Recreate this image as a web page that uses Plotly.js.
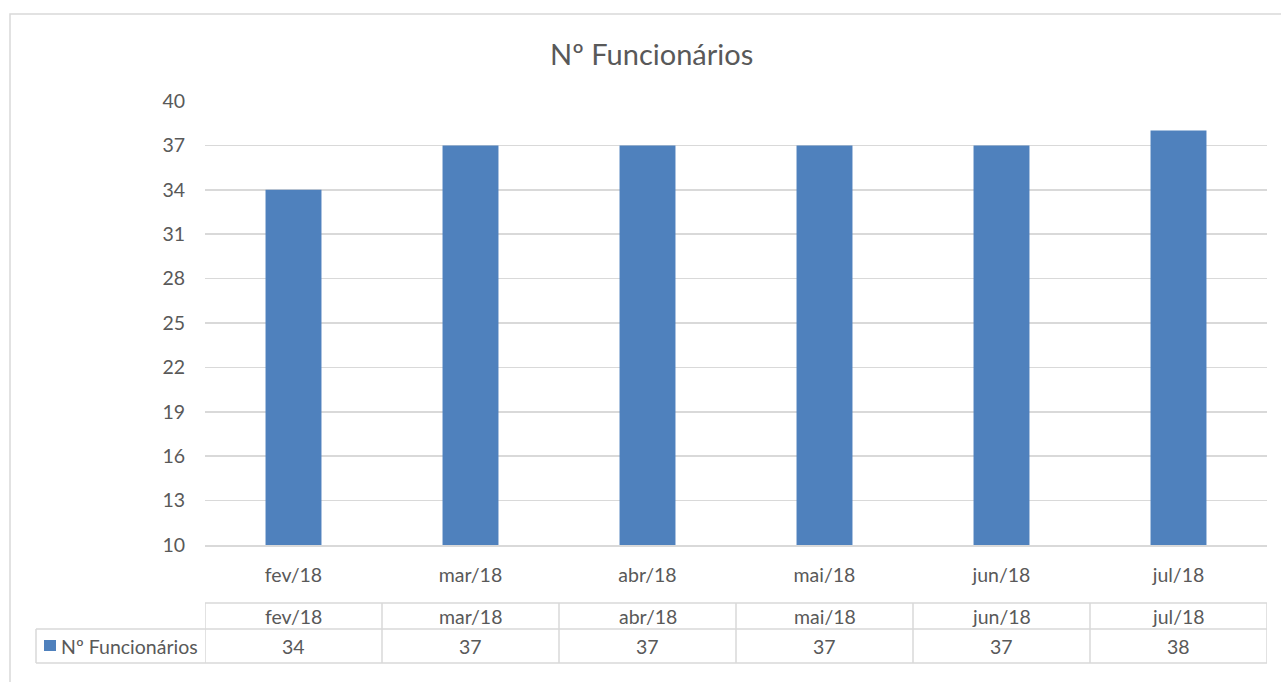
<!DOCTYPE html>
<html><head><meta charset="utf-8">
<script src="https://cdn.plot.ly/plotly-3.0.1.min.js"></script>
<style>html,body{margin:0;padding:0;background:#fff;}#chart{width:1281px;height:682px;}</style>
</head><body><div id="chart"></div>
<script>
const chartTitle = "Nº Funcionários";
const seriesName = "Nº Funcionários";
const categories = ["fev/18","mar/18","abr/18","mai/18","jun/18","jul/18"];
const values = [34, 37, 37, 37, 37, 38];
const yTicks = [10,13,16,19,22,25,28,31,34,37,40];

const W = 1281, H = 682;
const px = x => x / W;
const py = y => 1 - y / H;
const FONT = "Lato, 'Open Sans', sans-serif";
const GRAY = "#595959";
const LINE = "#d9d9d9";
const BLUE = "#4f81bd";
const FS = 19.5;

const plotL = 205, plotR = 1267, plotT = 101, plotB = 545;
const rowTop = 603, rowMid = 629, rowBot = 663, legendL = 36;

const shapes = [];
const annotations = [];

// outer chart border
shapes.push({type:'rect', xref:'paper', yref:'paper', x0:px(10), x1:px(1300), y0:py(14), y1:py(700), line:{color:LINE, width:1.5}, fillcolor:'rgba(0,0,0,0)'});

// data table grid lines
const n = categories.length;
shapes.push({type:'line', xref:'x', yref:'paper', x0:-0.5, x1:n-0.5, y0:py(rowTop), y1:py(rowTop), line:{color:LINE,width:1.5}});
shapes.push({type:'line', xref:'paper', yref:'paper', x0:px(legendL), x1:px(plotL), y0:py(rowMid), y1:py(rowMid), line:{color:LINE,width:1.5}});
shapes.push({type:'line', xref:'x', yref:'paper', x0:-0.5, x1:n-0.5, y0:py(rowMid), y1:py(rowMid), line:{color:LINE,width:1.5}});
shapes.push({type:'line', xref:'paper', yref:'paper', x0:px(legendL), x1:px(plotL), y0:py(rowBot), y1:py(rowBot), line:{color:LINE,width:1.5}});
shapes.push({type:'line', xref:'x', yref:'paper', x0:-0.5, x1:n-0.5, y0:py(rowBot), y1:py(rowBot), line:{color:LINE,width:1.5}});
shapes.push({type:'line', xref:'paper', yref:'paper', x0:px(legendL), x1:px(legendL), y0:py(rowMid), y1:py(rowBot), line:{color:LINE,width:1.5}});
for (let i = 0; i <= n; i++) {
  shapes.push({type:'line', xref:'x', yref:'paper', x0:i-0.5, x1:i-0.5, y0:py(rowTop), y1:py(rowBot), line:{color:LINE,width:1.5}});
}
// legend key square
shapes.push({type:'rect', xref:'paper', yref:'paper', x0:px(44), x1:px(56), y0:py(640), y1:py(651), fillcolor:BLUE, line:{width:0}});
annotations.push({xref:'paper', yref:'paper', x:px(59), y:py(646), xanchor:'left', yanchor:'middle', text:seriesName, showarrow:false, font:{family:FONT,size:FS,color:GRAY}});

categories.forEach((c, i) => {
  annotations.push({xref:'x', yref:'paper', x:c, y:py(616), xanchor:'center', yanchor:'middle', text:c, showarrow:false, font:{family:FONT,size:FS,color:GRAY}});
  annotations.push({xref:'x', yref:'paper', x:c, y:py(646), xanchor:'center', yanchor:'middle', text:String(values[i]), showarrow:false, font:{family:FONT,size:FS,color:GRAY}});
});

// title
annotations.push({xref:'paper', yref:'paper', x:px(651), y:py(53), xanchor:'center', yanchor:'middle', text:chartTitle, showarrow:false, font:{family:FONT,size:29,color:GRAY}});

const trace = {type:'bar', x:categories, y:values, marker:{color:BLUE}, name:seriesName, hoverinfo:'x+y'};

const layout = {
  width:W, height:H,
  margin:{l:0,r:0,t:0,b:0},
  paper_bgcolor:'#fff', plot_bgcolor:'#fff',
  showlegend:false,
  bargap:0.684,
  font:{family:FONT, color:GRAY, size:FS},
  xaxis:{domain:[px(plotL), px(plotR)], type:'category', showgrid:false, zeroline:false, showline:true, linecolor:LINE, linewidth:1.5,
         ticks:'', ticklabelstandoff:12, tickfont:{family:FONT,size:FS,color:GRAY}, range:[-0.5, n-0.5], fixedrange:true},
  yaxis:{domain:[py(plotB), py(plotT)], range:[10,40], tickmode:'array', tickvals:yTicks, ticktext:yTicks.map(String),
         showgrid:true, gridcolor:LINE, gridwidth:1.5, zeroline:false, showline:false, ticks:'', ticklabelstandoff:19,
         tickfont:{family:FONT,size:FS,color:GRAY}, fixedrange:true},
  shapes:shapes,
  annotations:annotations
};

Plotly.newPlot('chart', [trace], layout, {displayModeBar:false, staticPlot:true});
</script></body></html>
